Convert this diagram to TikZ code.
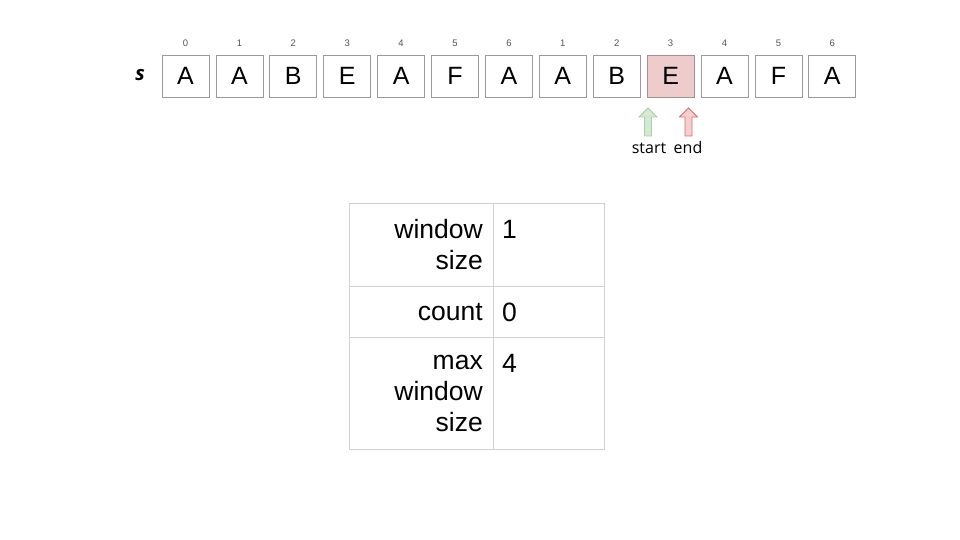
\documentclass[tikz,border=0pt]{standalone}
\usepackage{fontspec}
\setmainfont{Liberation Sans}
\newfontfamily\labfont{Open Sans}
\definecolor{boxline}{HTML}{9A9A9A}
\definecolor{hifill}{HTML}{EFCCCC}
\definecolor{hiline}{HTML}{A89090}
\definecolor{gfill}{HTML}{D5E8D4}
\definecolor{gline}{HTML}{A6CFA0}
\definecolor{rfill}{HTML}{F8CECC}
\definecolor{rline}{HTML}{D07070}
\definecolor{tline}{HTML}{D0D0D0}
\definecolor{idxcol}{HTML}{555555}
\tikzset{
  cell/.style={draw=boxline, line width=0.8pt, minimum width=47pt, minimum height=42pt, inner sep=0pt, font=\fontsize{25}{25}\selectfont, text=black},
  hicell/.style={cell, fill=hifill, draw=hiline},
  idx/.style={font=\fontsize{9.5}{10}\selectfont, text=idxcol, inner sep=0pt},
  plab/.style={font=\labfont\fontsize{16}{16}\selectfont, inner sep=0pt},
  tkey/.style={align=right, anchor=east, font=\fontsize{26.5}{31}\selectfont, inner sep=0pt},
  tval/.style={anchor=west, font=\fontsize{26.5}{31}\selectfont, inner sep=0pt},
  tgrid/.style={draw=tline, line width=0.8pt},
  ptrline/.style={line width=0.8pt, line join=miter}
}
\newcommand{\blockarrow}[4]{% x, fill, draw, name
  \draw[ptrline, fill=#2, draw=#3] (#1-3.5,136) -- (#1-3.5,117) -- (#1-9,117) -- (#1,108) -- (#1+9,117) -- (#1+3.5,117) -- (#1+3.5,136) -- cycle;
  \coordinate (#4) at (#1,108);
}
\begin{document}
\begin{tikzpicture}[x=1pt,y=-1pt]
\useasboundingbox (0,0) rectangle (960,540);
\node[font=\labfont\bfseries\itshape\fontsize{20}{20}\selectfont, inner sep=0pt] (s) at (140,75) {s};
\foreach \i/\ch/\n in {0/A/0,1/A/1,2/B/2,3/E/3,4/A/4,5/F/5,6/A/6,7/A/1,8/B/2,10/A/4,11/F/5,12/A/6}{
  \node[cell] (c\i) at ({185.5+53.9*\i},76) {\ch};
  \node[idx] (n\i) at ({185.5+53.9*\i},43) {\n};
}
\node[hicell] (c9) at ({185.5+53.9*9},76) {E};
\node[idx] (n9) at ({185.5+53.9*9},43) {3};
\blockarrow{648}{gfill}{gline}{pstart}
\blockarrow{688.5}{rfill}{rline}{pend}
\node[plab] (lstart) at (649,148) {start};
\node[plab] (lend) at (688,148) {end};
% table
\draw[tgrid] (349,203) rectangle (604,449);
\draw[tgrid] (493,203) -- (493,449);
\draw[tgrid] (349,286) -- (604,286);
\draw[tgrid] (349,337) -- (604,337);
\node[tkey] (k1) at (483,244.5) {window\\size};
\node[tval] (v1) at (502,229) {1};
\node[tkey] (k2) at (483,312) {count};
\node[tval] (v2) at (502,312) {0};
\node[tkey] (k3) at (483,393.5) {max\\window\\size};
\node[tval] (v3) at (502,363) {4};
\end{tikzpicture}
\end{document}
